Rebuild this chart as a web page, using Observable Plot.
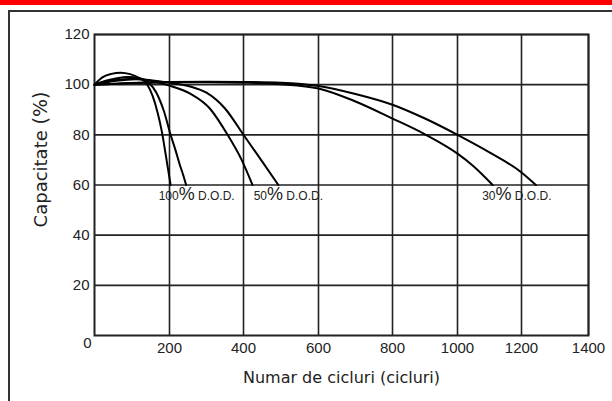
<!DOCTYPE html>
<html><head><meta charset="utf-8">
<script src="https://cdn.jsdelivr.net/npm/d3@7"></script>
<script src="https://cdn.jsdelivr.net/npm/@observablehq/plot@0.6"></script>
<style>
html,body{margin:0;padding:0;background:#fff;}
#wrap{position:relative;width:612px;height:401px;overflow:hidden;background:#fff;}
#chart{position:absolute;left:0;top:0;}
#band{position:absolute;left:0;top:0;width:612px;height:5px;background:#fe0000;}
#box{position:absolute;left:8px;top:10px;width:640px;height:420px;border-left:2px solid #333;border-top:2px solid #333;}
</style></head><body>
<div id="wrap"><div id="chart"></div><div id="band"></div><div id="box"></div></div>
<script>
// ---- data ----
const xBreaks = [0, 200, 400, 600, 800, 1000, 1200, 1400];
const xTicks = [200, 400, 600, 800, 1000, 1200, 1400];
const yTicks = [20, 40, 60, 80, 100, 120];
const xLabel = "Numar de cicluri (cicluri)";
const yLabel = "Capacitate (%)";

// 100% D.O.D.
const cyc100a = [0, 20, 45, 70, 95, 120, 141, 155, 168, 180, 190, 197, 203];
const cap100a = [100, 102.8, 104.3, 104.8, 104.2, 102.6, 100, 95.5, 89, 81, 72, 65.5, 60];
const cyc100b = [0, 30, 60, 90, 120, 145, 165, 185, 203, 216, 228, 237, 245];
const cap100b = [100, 101.6, 102.6, 103.1, 102.6, 100.8, 96.8, 89.5, 80, 74, 68, 64, 60];
// 50% D.O.D.
const cyc50a = [0, 40, 80, 110, 150, 200, 256, 309, 357, 395, 424];
const cap50a = [100, 101.5, 102.2, 102.4, 101.6, 99.6, 96.4, 90.5, 80, 70, 60];
const cyc50b = [0, 40, 80, 110, 150, 200, 256, 300, 350, 400, 450, 493];
const cap50b = [100, 101.2, 101.9, 102.2, 101.8, 100.8, 99.3, 96.8, 90.5, 80, 69.3, 60];
// 30% D.O.D.
const cyc30a = [0, 100, 200, 300, 400, 500, 600, 700, 800, 900, 1000, 1050, 1110];
const cap30a = [100, 100.7, 101, 101, 100.8, 100.2, 98.5, 93.3, 86.5, 80.2, 72.5, 67.5, 60];
const cyc30b = [0, 100, 200, 300, 400, 500, 600, 700, 800, 900, 1000, 1100, 1200, 1243];
const cap30b = [100, 100.7, 101.1, 101.2, 101.1, 100.8, 99.5, 96.3, 92, 86.5, 80, 73, 65, 60];

const dodLabels = ["100% D.O.D.", "50% D.O.D.", "30% D.O.D."];
const dodX = [171, 427, 1077];
const dodY = [55.7, 55.7, 55.7];

// ---- build ----
const series = [
  ["100a", cyc100a, cap100a], ["100b", cyc100b, cap100b],
  ["50a", cyc50a, cap50a], ["50b", cyc50b, cap50b],
  ["30a", cyc30a, cap30a], ["30b", cyc30b, cap30b]
];
const rows = series.flatMap(([id, cs, vs]) => cs.map((c, i) => ({id, c, v: vs[i]})));
const labelRows = dodLabels.map((t, i) => ({t, x: dodX[i], y: dodY[i]}));

const chart = Plot.plot({
  width: 612, height: 401,
  marginLeft: 94, marginRight: 24, marginTop: 34, marginBottom: 66,
  style: {fontFamily: "'Liberation Sans', Arial, sans-serif", background: "transparent", color: "#222"},
  x: {type: "linear", domain: xBreaks, range: [94, 169, 243, 318, 392, 457, 521, 588], label: null},
  y: {domain: [0, 120], label: null},
  marks: [
    Plot.ruleX(xTicks, {stroke: "#222", strokeWidth: 1.6}),
    Plot.ruleY(yTicks, {stroke: "#222", strokeWidth: 1.6}),
    Plot.frame({stroke: "#222", strokeWidth: 2}),
    Plot.line(rows, {x: "c", y: "v", z: "id", curve: "monotone-x", stroke: "#000", strokeWidth: 2}),
    Plot.axisX(xTicks, {tickSize: 0, tickPadding: 7, fontSize: 15, label: null, tickFormat: d => String(d)}),
    Plot.axisY(yTicks, {tickSize: 0, tickPadding: 5, fontSize: 15, label: null, tickFormat: d => String(d)}),
    Plot.text([0], {x: 0, y: 0, text: () => "0", textAnchor: "end", dx: -3, dy: 8, fontSize: 15, fill: "#222"}),
    Plot.text(labelRows, {x: "x", y: "y", text: "t", textAnchor: "start", fontSize: 12, fill: "#222"}),
    Plot.text([xLabel], {frameAnchor: "bottom", textAnchor: "middle", dy: 47, fontSize: 16, fontFamily: "DejaVu Sans", fill: "#222"}),
    Plot.text([yLabel], {frameAnchor: "left", textAnchor: "middle", rotate: -90, dx: -53, dy: -25.5, fontSize: 18, fontFamily: "DejaVu Sans", fill: "#222"})
  ]
});

// mixed font sizes inside labels (real text kept)
function addSpan(t, s, size) {
  const sp = document.createElementNS("http://www.w3.org/2000/svg", "tspan");
  sp.setAttribute("font-size", size);
  sp.textContent = s;
  t.appendChild(sp);
}
chart.querySelectorAll("text").forEach(t => {
  const s = t.textContent;
  let m = s.match(/^(\d+)%(.*)$/);
  if (m) {
    t.textContent = "";
    addSpan(t, m[1], 12); addSpan(t, "%", 18); addSpan(t, m[2], 12);
  } else if (s === yLabel) {
    t.textContent = "";
    addSpan(t, "Capacitate ", 18); addSpan(t, "(%)", 19);
  }
});
document.getElementById("chart").appendChild(chart);
</script>
</body></html>
